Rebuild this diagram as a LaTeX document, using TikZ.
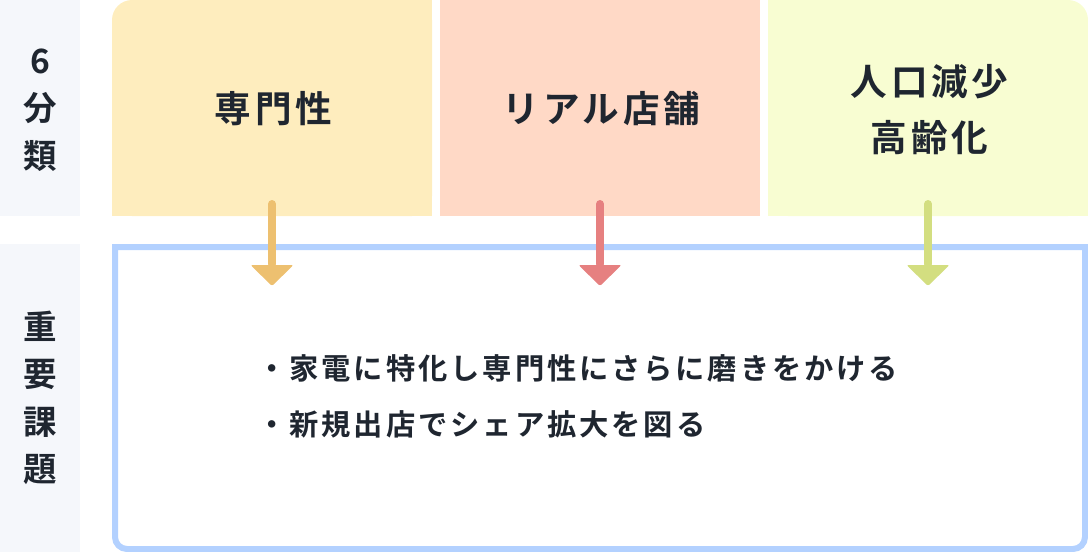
\documentclass[tikz,border=0pt]{standalone}
\usepackage{fontspec}
\newfontfamily\jpb{Noto Sans CJK JP Bold}
\newfontfamily\jpt{Noto Sans CJK JP Bold}[LetterSpace=10]
\definecolor{labelbg}{HTML}{F5F7FB}
\definecolor{boxA}{HTML}{FEEDBE}
\definecolor{boxB}{HTML}{FFD9C6}
\definecolor{boxC}{HTML}{F8FDD2}
\definecolor{arrA}{HTML}{EDC070}
\definecolor{arrB}{HTML}{E68080}
\definecolor{arrC}{HTML}{D3DE80}
\definecolor{frameblue}{HTML}{B3D1FF}
\definecolor{ink}{HTML}{1F2630}
\tikzset{
  sidelabel/.style={text=ink, align=center, inner sep=0pt,
    font=\jpb\fontsize{33.5}{47.5}\selectfont},
  cattext/.style={text=ink, align=center, inner sep=0pt,
    font=\jpt\fontsize{36.6}{56}\selectfont},
  bodytext/.style={text=ink, align=left, inner sep=0pt, anchor=west,
    font=\jpt\fontsize{29.3}{56}\selectfont},
  stem/.style={line width=8pt, line cap=round},
}
\begin{document}
\begin{tikzpicture}[x=1pt,y=-1pt]
\useasboundingbox (0,0) rectangle (1088,552);
% side label backgrounds
\fill[labelbg] (0,0) rectangle (80,216);
\fill[labelbg] (0,244) rectangle (80,552);
% category boxes
\fill[boxA, rounded corners=20pt] (112,0) rectangle (432,216);
\fill[boxA] (112,40) rectangle (432,216);
\fill[boxA] (160,0) rectangle (432,216);
\fill[boxB] (440,0) rectangle (760,216);
\fill[boxC, rounded corners=20pt] (768,0) rectangle (1088,216);
\fill[boxC] (768,40) rectangle (1088,216);
\fill[boxC] (768,0) rectangle (1040,216);
% bottom frame
\draw[frameblue, line width=6pt, line join=miter]
  (115,247) -- (115,537) arc[start angle=180,end angle=90,radius=12]
  -- (1073,549) arc[start angle=90,end angle=0,radius=12]
  -- (1085,247) -- cycle;
% labels
\node[sidelabel] (lab1) at (40,110) {6\\分\\類};
\node[sidelabel] (lab2) at (40,398) {重\\要\\課\\題};
\node[cattext] (catA) at (273.5,109) {専門性};
\node[cattext] (catB) at (601.5,109) {リアル店舗};
\node[cattext] (catC) at (929.5,110) {人口減少\\高齢化};
\node[bodytext] (body) at (257,396) {・家電に特化し専門性にさらに磨きをかける\\・新規出店でシェア拡大を図る};
% arrows
\foreach \cx/\col/\nm in {272/arrA/a, 600/arrB/b, 928/arrC/c}{
  \coordinate (s\nm) at (\cx,204);
  \coordinate (e\nm) at (\cx,264);
  \coordinate (t\nm) at (\cx,286);
  \draw[stem, \col] (s\nm) -- (e\nm);
  \fill[\col, rounded corners=2pt] ([xshift=-21.5pt,yshift=-1pt]e\nm) -- ([xshift=21.5pt,yshift=-1pt]e\nm) -- (t\nm) -- cycle;
}
\end{tikzpicture}
\end{document}
